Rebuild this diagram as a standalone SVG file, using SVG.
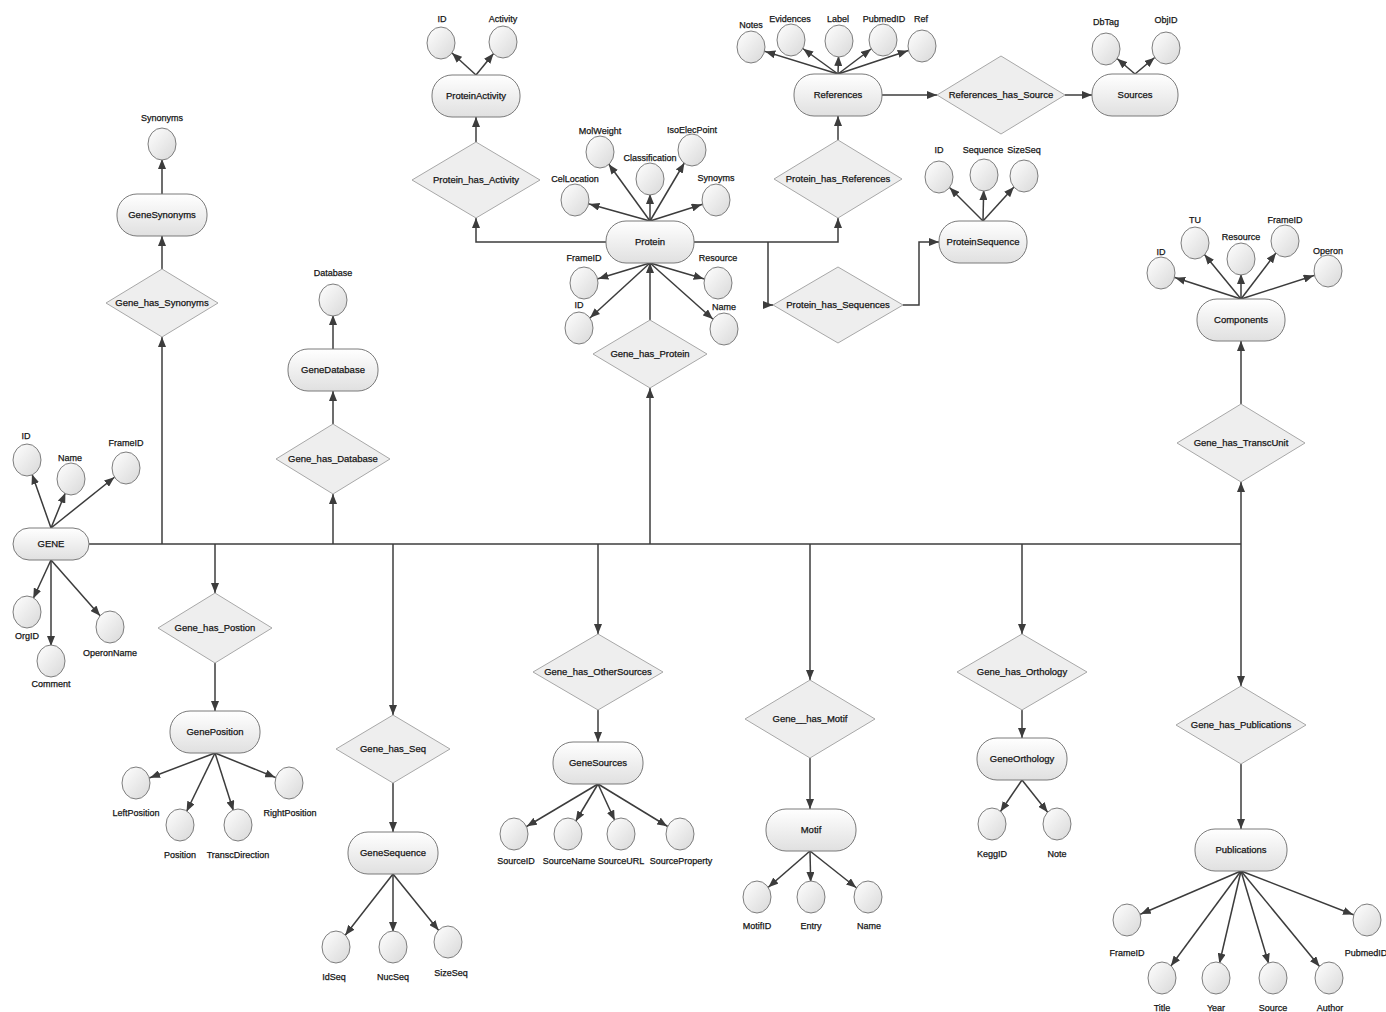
<svg xmlns="http://www.w3.org/2000/svg" width="1386" height="1012" viewBox="0 0 1386 1012">
<style>
.ent{fill:url(#gEnt);stroke:#7a7a7a;stroke-width:1}
.att{fill:url(#gAtt);stroke:#7d7d7d;stroke-width:1}
.rel{fill:#eeeeee;stroke:#a8a8a8;stroke-width:1}
.c{fill:none;stroke:#3c3c3c;stroke-width:1.5}
.c path{marker-end:url(#ah)}
.c .a{marker-end:url(#aa)}
text{font-family:"Liberation Sans",Arial,sans-serif;fill:#151515;stroke:#151515;stroke-width:0.25;text-anchor:middle}
.t{font-size:9.5px}
.l{font-size:9px}
</style>
<defs>
<linearGradient id="gEnt" x1="0" y1="0" x2="0" y2="1"><stop offset="0" stop-color="#ffffff"/><stop offset="1" stop-color="#e0e0e0"/></linearGradient>
<linearGradient id="gAtt" x1="0" y1="0" x2="1" y2="1"><stop offset="0" stop-color="#ffffff"/><stop offset="1" stop-color="#d8d8d8"/></linearGradient>
<marker id="ah" markerUnits="userSpaceOnUse" markerWidth="10" markerHeight="8" viewBox="0 0 10 8" refX="10" refY="4" orient="auto"><path d="M0,0L10,4L0,8z" fill="#3c3c3c"/></marker>
<marker id="aa" markerUnits="userSpaceOnUse" markerWidth="25" markerHeight="8" viewBox="0 0 25 8" refX="25" refY="4" orient="auto"><path d="M0,0L10,4L0,8z" fill="#3c3c3c"/></marker>
</defs>
<rect width="1386" height="1012" fill="#ffffff"/>
<g id="connectors" class="c">
<line x1="89" y1="544" x2="1241" y2="544"/>
<path d="M162,544V337"/>
<path d="M215,544V593"/>
<path d="M333,544V494"/>
<path d="M393,544V715"/>
<path d="M598,544V634"/>
<path d="M650,544V388"/>
<path d="M810,544V680"/>
<path d="M1022,544V634"/>
<path d="M1241,544V482"/>
<path d="M1241,544V686"/>
<path d="M162,269V236"/>
<path d="M333,424V391"/>
<path d="M215,663V711"/>
<path d="M393,783V832"/>
<path d="M598,710V742"/>
<path d="M810,758V809"/>
<path d="M1022,710V738"/>
<path d="M1241,404V341"/>
<path d="M1241,764V829"/>
<path d="M650,320V263"/>
<path d="M606,242H476V218"/>
<path d="M476,142V117"/>
<path d="M694,242H838V218"/>
<path d="M838,140V116"/>
<path d="M768,242V305H773"/>
<path d="M903,305H919V242H939"/>
<path d="M882,95H937"/>
<path d="M1065,95H1092"/>
<path class="a" d="M162,194L162,144"/>
<path class="a" d="M333,349L333,300"/>
<path class="a" d="M51,528L27,460"/>
<path class="a" d="M51,528L71,479"/>
<path class="a" d="M51,528L126,468"/>
<path class="a" d="M51,560L27,612"/>
<path class="a" d="M51,560L51,661"/>
<path class="a" d="M51,560L110,627"/>
<path class="a" d="M215,753L136,783"/>
<path class="a" d="M215,753L180,825"/>
<path class="a" d="M215,753L238,825"/>
<path class="a" d="M215,753L289,783"/>
<path class="a" d="M393,874L336,947"/>
<path class="a" d="M393,874L393,947"/>
<path class="a" d="M393,874L448,942"/>
<path class="a" d="M598,784L514,834"/>
<path class="a" d="M598,784L568,834"/>
<path class="a" d="M598,784L621,834"/>
<path class="a" d="M598,784L680,834"/>
<path class="a" d="M810,851L757,897"/>
<path class="a" d="M810,851L811,897"/>
<path class="a" d="M810,851L868,897"/>
<path class="a" d="M1022,780L992,824"/>
<path class="a" d="M1022,780L1057,824"/>
<path class="a" d="M1241,871L1127,920"/>
<path class="a" d="M1241,871L1162,978"/>
<path class="a" d="M1241,871L1216,978"/>
<path class="a" d="M1241,871L1273,978"/>
<path class="a" d="M1241,871L1329,978"/>
<path class="a" d="M1241,871L1367,920"/>
<path class="a" d="M1241,299L1161,273"/>
<path class="a" d="M1241,299L1195,243"/>
<path class="a" d="M1241,299L1241,259"/>
<path class="a" d="M1241,299L1285,241"/>
<path class="a" d="M1241,299L1328,271"/>
<path class="a" d="M650,221L575,200"/>
<path class="a" d="M650,221L600,152"/>
<path class="a" d="M650,221L650,179"/>
<path class="a" d="M650,221L692,150"/>
<path class="a" d="M650,221L716,200"/>
<path class="a" d="M650,263L584,283"/>
<path class="a" d="M650,263L718,283"/>
<path class="a" d="M650,263L579,328"/>
<path class="a" d="M650,263L724,329"/>
<path class="a" d="M476,75L441,43"/>
<path class="a" d="M476,75L503,42"/>
<path class="a" d="M838,74L751,47"/>
<path class="a" d="M838,74L791,40"/>
<path class="a" d="M838,74L839,41"/>
<path class="a" d="M838,74L883,40"/>
<path class="a" d="M838,74L922,46"/>
<path class="a" d="M983,221L939,177"/>
<path class="a" d="M983,221L984,175"/>
<path class="a" d="M983,221L1024,176"/>
<path class="a" d="M1135,74L1106,49"/>
<path class="a" d="M1135,74L1166,48"/>
</g>
<g id="GENE"><rect class="ent" x="13" y="528" width="76" height="32" rx="16"/><text class="t" x="51" y="547">GENE</text></g>
<g id="GeneSynonyms"><rect class="ent" x="117" y="194" width="90" height="42" rx="20"/><text class="t" x="162" y="218">GeneSynonyms</text></g>
<g id="GeneDatabase"><rect class="ent" x="288" y="349" width="90" height="42" rx="20"/><text class="t" x="333" y="373">GeneDatabase</text></g>
<g id="GenePosition"><rect class="ent" x="170" y="711" width="90" height="42" rx="20"/><text class="t" x="215" y="735">GenePosition</text></g>
<g id="GeneSequence"><rect class="ent" x="348" y="832" width="90" height="42" rx="20"/><text class="t" x="393" y="856">GeneSequence</text></g>
<g id="GeneSources"><rect class="ent" x="553" y="742" width="90" height="42" rx="20"/><text class="t" x="598" y="766">GeneSources</text></g>
<g id="Motif"><rect class="ent" x="766" y="809" width="90" height="42" rx="20"/><text class="t" x="811" y="833">Motif</text></g>
<g id="GeneOrthology"><rect class="ent" x="977" y="738" width="90" height="42" rx="20"/><text class="t" x="1022" y="762">GeneOrthology</text></g>
<g id="Publications"><rect class="ent" x="1195" y="829" width="92" height="42" rx="20"/><text class="t" x="1241" y="853">Publications</text></g>
<g id="Components"><rect class="ent" x="1197" y="299" width="88" height="42" rx="20"/><text class="t" x="1241" y="323">Components</text></g>
<g id="Protein"><rect class="ent" x="606" y="221" width="88" height="42" rx="20"/><text class="t" x="650" y="245">Protein</text></g>
<g id="ProteinActivity"><rect class="ent" x="432" y="75" width="88" height="42" rx="20"/><text class="t" x="476" y="99">ProteinActivity</text></g>
<g id="References"><rect class="ent" x="794" y="74" width="88" height="42" rx="20"/><text class="t" x="838" y="98">References</text></g>
<g id="ProteinSequence"><rect class="ent" x="939" y="221" width="88" height="42" rx="20"/><text class="t" x="983" y="245">ProteinSequence</text></g>
<g id="Sources"><rect class="ent" x="1092" y="74" width="86" height="42" rx="20"/><text class="t" x="1135" y="98">Sources</text></g>
<g id="Gene_has_Synonyms"><polygon class="rel" points="106,303 162,269 218,303 162,337"/><text class="t" x="162" y="306">Gene_has_Synonyms</text></g>
<g id="Gene_has_Database"><polygon class="rel" points="276,459 333,424 390,459 333,494"/><text class="t" x="333" y="462">Gene_has_Database</text></g>
<g id="Gene_has_Postion"><polygon class="rel" points="158,628 215,593 272,628 215,663"/><text class="t" x="215" y="631">Gene_has_Postion</text></g>
<g id="Gene_has_Seq"><polygon class="rel" points="336,749 393,715 450,749 393,783"/><text class="t" x="393" y="752">Gene_has_Seq</text></g>
<g id="Gene_has_OtherSources"><polygon class="rel" points="533,672 598,634 663,672 598,710"/><text class="t" x="598" y="675">Gene_has_OtherSources</text></g>
<g id="Gene__has_Motif"><polygon class="rel" points="745,719 810,680 875,719 810,758"/><text class="t" x="810" y="722">Gene__has_Motif</text></g>
<g id="Gene_has_Orthology"><polygon class="rel" points="957,672 1022,634 1087,672 1022,710"/><text class="t" x="1022" y="675">Gene_has_Orthology</text></g>
<g id="Gene_has_TranscUnit"><polygon class="rel" points="1177,443 1241,404 1305,443 1241,482"/><text class="t" x="1241" y="446">Gene_has_TranscUnit</text></g>
<g id="Gene_has_Publications"><polygon class="rel" points="1176,725 1241,686 1306,725 1241,764"/><text class="t" x="1241" y="728">Gene_has_Publications</text></g>
<g id="Gene_has_Protein"><polygon class="rel" points="593,354 650,320 707,354 650,388"/><text class="t" x="650" y="357">Gene_has_Protein</text></g>
<g id="Protein_has_Activity"><polygon class="rel" points="412,180 476,142 540,180 476,218"/><text class="t" x="476" y="183">Protein_has_Activity</text></g>
<g id="Protein_has_References"><polygon class="rel" points="774,179 838,140 902,179 838,218"/><text class="t" x="838" y="182">Protein_has_References</text></g>
<g id="Protein_has_Sequences"><polygon class="rel" points="773,305 838,267 903,305 838,343"/><text class="t" x="838" y="308">Protein_has_Sequences</text></g>
<g id="References_has_Source"><polygon class="rel" points="937,95 1001,56 1065,95 1001,134"/><text class="t" x="1001" y="98">References_has_Source</text></g>
<g id="gene-ID"><ellipse class="att" cx="27" cy="460" rx="14" ry="16"/><text class="l" x="26" y="439">ID</text></g>
<g id="gene-Name"><ellipse class="att" cx="71" cy="479" rx="14" ry="16"/><text class="l" x="70" y="461">Name</text></g>
<g id="gene-FrameID"><ellipse class="att" cx="126" cy="468" rx="14" ry="16"/><text class="l" x="126" y="446">FrameID</text></g>
<g id="gene-OrgID"><ellipse class="att" cx="27" cy="612" rx="14" ry="16"/><text class="l" x="27" y="639">OrgID</text></g>
<g id="gene-Comment"><ellipse class="att" cx="51" cy="661" rx="14" ry="16"/><text class="l" x="51" y="687">Comment</text></g>
<g id="gene-OperonName"><ellipse class="att" cx="110" cy="627" rx="14" ry="16"/><text class="l" x="110" y="656">OperonName</text></g>
<g id="syn-Synonyms"><ellipse class="att" cx="162" cy="144" rx="14" ry="16"/><text class="l" x="162" y="121">Synonyms</text></g>
<g id="db-Database"><ellipse class="att" cx="333" cy="300" rx="14" ry="16"/><text class="l" x="333" y="276">Database</text></g>
<g id="pos-LeftPosition"><ellipse class="att" cx="136" cy="783" rx="14" ry="16"/><text class="l" x="136" y="816">LeftPosition</text></g>
<g id="pos-Position"><ellipse class="att" cx="180" cy="825" rx="14" ry="16"/><text class="l" x="180" y="858">Position</text></g>
<g id="pos-TranscDirection"><ellipse class="att" cx="238" cy="825" rx="14" ry="16"/><text class="l" x="238" y="858">TranscDirection</text></g>
<g id="pos-RightPosition"><ellipse class="att" cx="289" cy="783" rx="14" ry="16"/><text class="l" x="290" y="816">RightPosition</text></g>
<g id="seq-IdSeq"><ellipse class="att" cx="336" cy="947" rx="14" ry="16"/><text class="l" x="334" y="980">IdSeq</text></g>
<g id="seq-NucSeq"><ellipse class="att" cx="393" cy="947" rx="14" ry="16"/><text class="l" x="393" y="980">NucSeq</text></g>
<g id="seq-SizeSeq"><ellipse class="att" cx="448" cy="942" rx="14" ry="16"/><text class="l" x="451" y="976">SizeSeq</text></g>
<g id="src-SourceID"><ellipse class="att" cx="514" cy="834" rx="14" ry="16"/><text class="l" x="516" y="864">SourceID</text></g>
<g id="src-SourceName"><ellipse class="att" cx="568" cy="834" rx="14" ry="16"/><text class="l" x="569" y="864">SourceName</text></g>
<g id="src-SourceURL"><ellipse class="att" cx="621" cy="834" rx="14" ry="16"/><text class="l" x="621" y="864">SourceURL</text></g>
<g id="src-SourceProperty"><ellipse class="att" cx="680" cy="834" rx="14" ry="16"/><text class="l" x="681" y="864">SourceProperty</text></g>
<g id="motif-MotifID"><ellipse class="att" cx="757" cy="897" rx="14" ry="16"/><text class="l" x="757" y="929">MotifID</text></g>
<g id="motif-Entry"><ellipse class="att" cx="811" cy="897" rx="14" ry="16"/><text class="l" x="811" y="929">Entry</text></g>
<g id="motif-Name"><ellipse class="att" cx="868" cy="897" rx="14" ry="16"/><text class="l" x="869" y="929">Name</text></g>
<g id="orth-KeggID"><ellipse class="att" cx="992" cy="824" rx="14" ry="16"/><text class="l" x="992" y="857">KeggID</text></g>
<g id="orth-Note"><ellipse class="att" cx="1057" cy="824" rx="14" ry="16"/><text class="l" x="1057" y="857">Note</text></g>
<g id="pub-FrameID"><ellipse class="att" cx="1127" cy="920" rx="14" ry="16"/><text class="l" x="1127" y="956">FrameID</text></g>
<g id="pub-Title"><ellipse class="att" cx="1162" cy="978" rx="14" ry="16"/><text class="l" x="1162" y="1011">Title</text></g>
<g id="pub-Year"><ellipse class="att" cx="1216" cy="978" rx="14" ry="16"/><text class="l" x="1216" y="1011">Year</text></g>
<g id="pub-Source"><ellipse class="att" cx="1273" cy="978" rx="14" ry="16"/><text class="l" x="1273" y="1011">Source</text></g>
<g id="pub-Author"><ellipse class="att" cx="1329" cy="978" rx="14" ry="16"/><text class="l" x="1330" y="1011">Author</text></g>
<g id="pub-PubmedID"><ellipse class="att" cx="1367" cy="920" rx="14" ry="16"/><text class="l" x="1366" y="956">PubmedID</text></g>
<g id="comp-ID"><ellipse class="att" cx="1161" cy="273" rx="14" ry="16"/><text class="l" x="1161" y="255">ID</text></g>
<g id="comp-TU"><ellipse class="att" cx="1195" cy="243" rx="14" ry="16"/><text class="l" x="1195" y="223">TU</text></g>
<g id="comp-Resource"><ellipse class="att" cx="1241" cy="259" rx="14" ry="16"/><text class="l" x="1241" y="240">Resource</text></g>
<g id="comp-FrameID"><ellipse class="att" cx="1285" cy="241" rx="14" ry="16"/><text class="l" x="1285" y="223">FrameID</text></g>
<g id="comp-Operon"><ellipse class="att" cx="1328" cy="271" rx="14" ry="16"/><text class="l" x="1328" y="254">Operon</text></g>
<g id="prot-CelLocation"><ellipse class="att" cx="575" cy="200" rx="14" ry="16"/><text class="l" x="575" y="182">CelLocation</text></g>
<g id="prot-MolWeight"><ellipse class="att" cx="600" cy="152" rx="14" ry="16"/><text class="l" x="600" y="134">MolWeight</text></g>
<g id="prot-Classification"><ellipse class="att" cx="650" cy="179" rx="14" ry="16"/><text class="l" x="650" y="161">Classification</text></g>
<g id="prot-IsoElecPoint"><ellipse class="att" cx="692" cy="150" rx="14" ry="16"/><text class="l" x="692" y="133">IsoElecPoint</text></g>
<g id="prot-Synoyms"><ellipse class="att" cx="716" cy="200" rx="14" ry="16"/><text class="l" x="716" y="181">Synoyms</text></g>
<g id="prot-FrameID"><ellipse class="att" cx="584" cy="283" rx="14" ry="16"/><text class="l" x="584" y="261">FrameID</text></g>
<g id="prot-Resource"><ellipse class="att" cx="718" cy="283" rx="14" ry="16"/><text class="l" x="718" y="261">Resource</text></g>
<g id="prot-ID"><ellipse class="att" cx="579" cy="328" rx="14" ry="16"/><text class="l" x="579" y="308">ID</text></g>
<g id="prot-Name"><ellipse class="att" cx="724" cy="329" rx="14" ry="16"/><text class="l" x="724" y="310">Name</text></g>
<g id="act-ID"><ellipse class="att" cx="441" cy="43" rx="14" ry="16"/><text class="l" x="442" y="22">ID</text></g>
<g id="act-Activity"><ellipse class="att" cx="503" cy="42" rx="14" ry="16"/><text class="l" x="503" y="22">Activity</text></g>
<g id="ref-Notes"><ellipse class="att" cx="751" cy="47" rx="14" ry="16"/><text class="l" x="751" y="28">Notes</text></g>
<g id="ref-Evidences"><ellipse class="att" cx="791" cy="40" rx="14" ry="16"/><text class="l" x="790" y="22">Evidences</text></g>
<g id="ref-Label"><ellipse class="att" cx="839" cy="41" rx="14" ry="16"/><text class="l" x="838" y="22">Label</text></g>
<g id="ref-PubmedID"><ellipse class="att" cx="883" cy="40" rx="14" ry="16"/><text class="l" x="884" y="22">PubmedID</text></g>
<g id="ref-Ref"><ellipse class="att" cx="922" cy="46" rx="14" ry="16"/><text class="l" x="921" y="22">Ref</text></g>
<g id="pseq-ID"><ellipse class="att" cx="939" cy="177" rx="14" ry="16"/><text class="l" x="939" y="153">ID</text></g>
<g id="pseq-Sequence"><ellipse class="att" cx="984" cy="175" rx="14" ry="16"/><text class="l" x="983" y="153">Sequence</text></g>
<g id="pseq-SizeSeq"><ellipse class="att" cx="1024" cy="176" rx="14" ry="16"/><text class="l" x="1024" y="153">SizeSeq</text></g>
<g id="srcs-DbTag"><ellipse class="att" cx="1106" cy="49" rx="14" ry="16"/><text class="l" x="1106" y="25">DbTag</text></g>
<g id="srcs-ObjID"><ellipse class="att" cx="1166" cy="48" rx="14" ry="16"/><text class="l" x="1166" y="23">ObjID</text></g>
</svg>
